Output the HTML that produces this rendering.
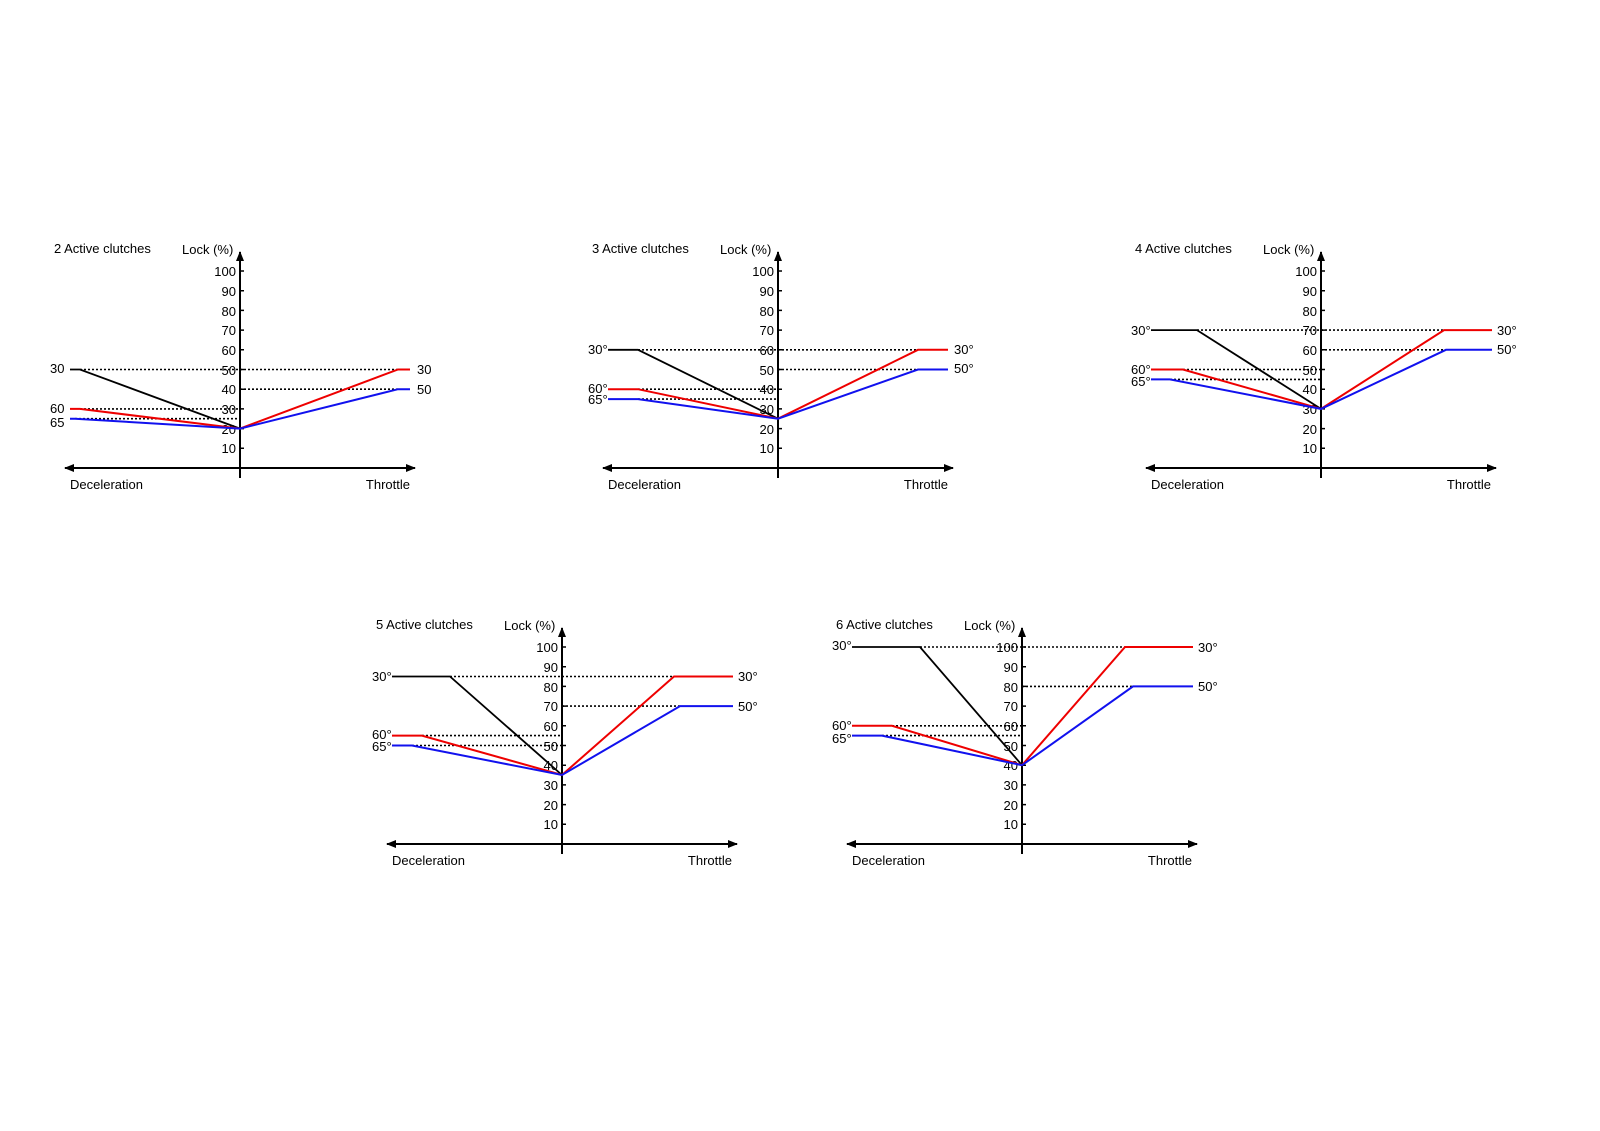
<!DOCTYPE html>
<html><head><meta charset="utf-8"><style>
html,body{margin:0;padding:0;background:#fff}
svg{display:block}
text{font-family:"Liberation Sans",Arial,sans-serif;font-size:13px;fill:#000}
.t{text-anchor:end}
.ax{stroke:#000;stroke-width:2;fill:none}
.tk{stroke:#000;stroke-width:1.5}
.d{stroke:#000;stroke-width:1.6;stroke-dasharray:2,2;fill:none}
.k{stroke:#000;stroke-width:1.8;fill:none}
.r{stroke:#e00;stroke-width:2;fill:none}
.b{stroke:#11e;stroke-width:2;fill:none}
</style></head><body>
<svg width="1600" height="1131" viewBox="0 0 1600 1131" xmlns="http://www.w3.org/2000/svg">
<defs>
<marker id="ar" viewBox="0 0 10 10" refX="9" refY="5" markerWidth="5" markerHeight="5" orient="auto-start-reverse"><path d="M0,1 L10,5 L0,9 z" fill="#000"/></marker>
</defs>

<!-- Chart 1 -->
<g transform="translate(240,468)">
<line class="ax" x1="0" y1="10" x2="0" y2="-216" marker-end="url(#ar)"/>
<line class="ax" x1="-175" y1="0" x2="175" y2="0" marker-start="url(#ar)" marker-end="url(#ar)"/>
<path class="tk" d="M0,-19.7h4M0,-39.4h4M0,-59.1h4M0,-78.8h4M0,-98.5h4M0,-118.2h4M0,-137.9h4M0,-157.6h4M0,-177.3h4M0,-197h4"/>
<text class="t" x="-4" y="-15">10</text><text class="t" x="-4" y="-34">20</text><text class="t" x="-4" y="-54">30</text><text class="t" x="-4" y="-74">40</text><text class="t" x="-4" y="-93">50</text><text class="t" x="-4" y="-113">60</text><text class="t" x="-4" y="-133">70</text><text class="t" x="-4" y="-152">80</text><text class="t" x="-4" y="-172">90</text><text class="t" x="-4" y="-192">100</text>
<text x="-186" y="-215">2 Active clutches</text><text x="-58" y="-214">Lock (%)</text>
<text x="-170" y="21">Deceleration</text><text class="t" x="170" y="21">Throttle</text>
<path class="d" d="M-160,-98.5H158M-160,-59.1H0M-165,-49.3H0M0,-78.8H158"/>
<path class="k" d="M-170,-98.5H-160L0,-39.4"/>
<path class="r" d="M-170,-59.1H-160L0,-39.4L158,-98.5H170"/>
<path class="b" d="M-170,-49.3H-165L0,-39.4L158,-78.8H170"/>
<text x="-190" y="-95">30</text><text x="-190" y="-55">60</text><text x="-190" y="-41">65</text>
<text x="177" y="-94">30</text><text x="177" y="-74">50</text>
</g>

<!-- Chart 2 -->
<g transform="translate(778,468)">
<line class="ax" x1="0" y1="10" x2="0" y2="-216" marker-end="url(#ar)"/>
<line class="ax" x1="-175" y1="0" x2="175" y2="0" marker-start="url(#ar)" marker-end="url(#ar)"/>
<path class="tk" d="M0,-19.7h4M0,-39.4h4M0,-59.1h4M0,-78.8h4M0,-98.5h4M0,-118.2h4M0,-137.9h4M0,-157.6h4M0,-177.3h4M0,-197h4"/>
<text class="t" x="-4" y="-15">10</text><text class="t" x="-4" y="-34">20</text><text class="t" x="-4" y="-54">30</text><text class="t" x="-4" y="-74">40</text><text class="t" x="-4" y="-93">50</text><text class="t" x="-4" y="-113">60</text><text class="t" x="-4" y="-133">70</text><text class="t" x="-4" y="-152">80</text><text class="t" x="-4" y="-172">90</text><text class="t" x="-4" y="-192">100</text>
<text x="-186" y="-215">3 Active clutches</text><text x="-58" y="-214">Lock (%)</text>
<text x="-170" y="21">Deceleration</text><text class="t" x="170" y="21">Throttle</text>
<path class="d" d="M-140,-118.2H140M-140,-78.8H0M-140,-68.9H0M0,-98.5H140"/>
<path class="k" d="M-170,-118.2H-140L0,-49.3"/>
<path class="r" d="M-170,-78.8H-140L0,-49.3L140,-118.2H170"/>
<path class="b" d="M-170,-68.9H-140L0,-49.3L140,-98.5H170"/>
<text x="-190" y="-114">30°</text><text x="-190" y="-75">60°</text><text x="-190" y="-64">65°</text>
<text x="176" y="-114">30°</text><text x="176" y="-95">50°</text>
</g>

<!-- Chart 3 -->
<g transform="translate(1321,468)">
<line class="ax" x1="0" y1="10" x2="0" y2="-216" marker-end="url(#ar)"/>
<line class="ax" x1="-175" y1="0" x2="175" y2="0" marker-start="url(#ar)" marker-end="url(#ar)"/>
<path class="tk" d="M0,-19.7h4M0,-39.4h4M0,-59.1h4M0,-78.8h4M0,-98.5h4M0,-118.2h4M0,-137.9h4M0,-157.6h4M0,-177.3h4M0,-197h4"/>
<text class="t" x="-4" y="-15">10</text><text class="t" x="-4" y="-34">20</text><text class="t" x="-4" y="-54">30</text><text class="t" x="-4" y="-74">40</text><text class="t" x="-4" y="-93">50</text><text class="t" x="-4" y="-113">60</text><text class="t" x="-4" y="-133">70</text><text class="t" x="-4" y="-152">80</text><text class="t" x="-4" y="-172">90</text><text class="t" x="-4" y="-192">100</text>
<text x="-186" y="-215">4 Active clutches</text><text x="-58" y="-214">Lock (%)</text>
<text x="-170" y="21">Deceleration</text><text class="t" x="170" y="21">Throttle</text>
<path class="d" d="M-124,-137.9H123M-138,-98.5H0M-151,-88.6H0M0,-118.2H125"/>
<path class="k" d="M-170,-137.9H-124L0,-59.1"/>
<path class="r" d="M-170,-98.5H-138L0,-59.1L123,-137.9H171"/>
<path class="b" d="M-170,-88.6H-151L0,-59.1L125,-118.2H171"/>
<text x="-190" y="-133">30°</text><text x="-190" y="-94">60°</text><text x="-190" y="-82">65°</text>
<text x="176" y="-133">30°</text><text x="176" y="-114">50°</text>
</g>

<!-- Chart 4 -->
<g transform="translate(562,844)">
<line class="ax" x1="0" y1="10" x2="0" y2="-216" marker-end="url(#ar)"/>
<line class="ax" x1="-175" y1="0" x2="175" y2="0" marker-start="url(#ar)" marker-end="url(#ar)"/>
<path class="tk" d="M0,-19.7h4M0,-39.4h4M0,-59.1h4M0,-78.8h4M0,-98.5h4M0,-118.2h4M0,-137.9h4M0,-157.6h4M0,-177.3h4M0,-197h4"/>
<text class="t" x="-4" y="-15">10</text><text class="t" x="-4" y="-34">20</text><text class="t" x="-4" y="-54">30</text><text class="t" x="-4" y="-74">40</text><text class="t" x="-4" y="-93">50</text><text class="t" x="-4" y="-113">60</text><text class="t" x="-4" y="-133">70</text><text class="t" x="-4" y="-152">80</text><text class="t" x="-4" y="-172">90</text><text class="t" x="-4" y="-192">100</text>
<text x="-186" y="-215">5 Active clutches</text><text x="-58" y="-214">Lock (%)</text>
<text x="-170" y="21">Deceleration</text><text class="t" x="170" y="21">Throttle</text>
<path class="d" d="M-112,-167.5H112M-140,-108.4H0M-150,-98.5H0M0,-137.9H118"/>
<path class="k" d="M-170,-167.5H-112L0,-69"/>
<path class="r" d="M-170,-108.4H-140L0,-69L112,-167.5H171"/>
<path class="b" d="M-170,-98.5H-150L0,-69L118,-137.9H171"/>
<text x="-190" y="-163">30°</text><text x="-190" y="-105">60°</text><text x="-190" y="-93">65°</text>
<text x="176" y="-163">30°</text><text x="176" y="-133">50°</text>
</g>

<!-- Chart 5 -->
<g transform="translate(1022,844)">
<line class="ax" x1="0" y1="10" x2="0" y2="-216" marker-end="url(#ar)"/>
<line class="ax" x1="-175" y1="0" x2="175" y2="0" marker-start="url(#ar)" marker-end="url(#ar)"/>
<path class="tk" d="M0,-19.7h4M0,-39.4h4M0,-59.1h4M0,-78.8h4M0,-98.5h4M0,-118.2h4M0,-137.9h4M0,-157.6h4M0,-177.3h4M0,-197h4"/>
<text class="t" x="-4" y="-15">10</text><text class="t" x="-4" y="-34">20</text><text class="t" x="-4" y="-54">30</text><text class="t" x="-4" y="-74">40</text><text class="t" x="-4" y="-93">50</text><text class="t" x="-4" y="-113">60</text><text class="t" x="-4" y="-133">70</text><text class="t" x="-4" y="-152">80</text><text class="t" x="-4" y="-172">90</text><text class="t" x="-4" y="-192">100</text>
<text x="-186" y="-215">6 Active clutches</text><text x="-58" y="-214">Lock (%)</text>
<text x="-170" y="21">Deceleration</text><text class="t" x="170" y="21">Throttle</text>
<path class="d" d="M-102,-197H103M-130,-118.2H0M-140,-108.4H0M0,-157.6H111"/>
<path class="k" d="M-170,-197H-102L0,-78.8"/>
<path class="r" d="M-170,-118.2H-130L0,-78.8L103,-197H171"/>
<path class="b" d="M-170,-108.4H-140L0,-78.8L111,-157.6H171"/>
<text x="-190" y="-194">30°</text><text x="-190" y="-114">60°</text><text x="-190" y="-101">65°</text>
<text x="176" y="-192">30°</text><text x="176" y="-153">50°</text>
</g>
</svg>
</body></html>
